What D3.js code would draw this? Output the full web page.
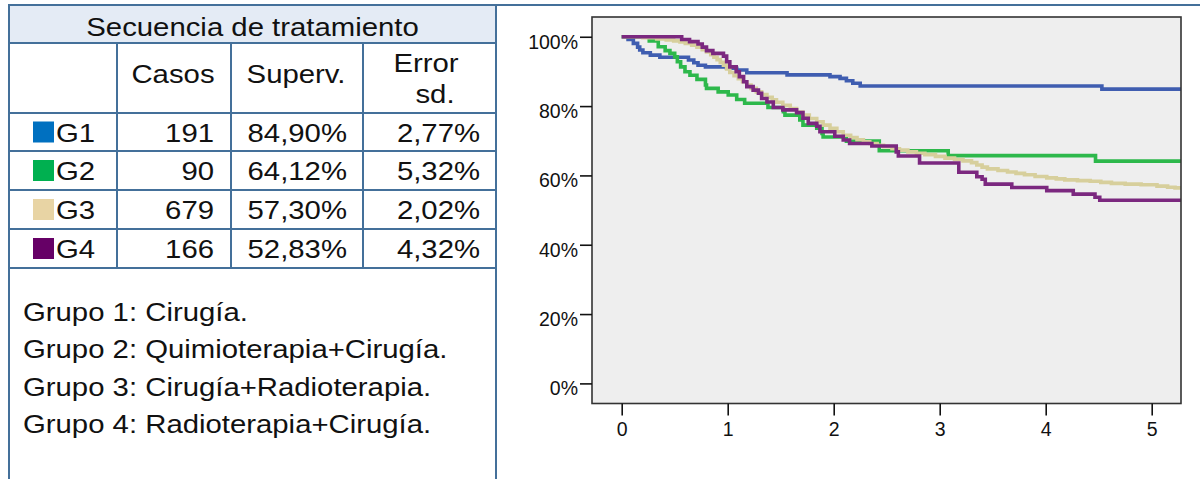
<!DOCTYPE html>
<html><head><meta charset="utf-8">
<script src="https://cdn.jsdelivr.net/npm/d3@7"></script>
<style>
html,body{margin:0;padding:0;background:#fff;}
svg{display:block;font-family:"Liberation Sans",Arial,sans-serif;}
</style></head><body>
<svg id="chart" width="1200" height="479"></svg>
<script>
// ---- table content ----
const tableTitle = "Secuencia de tratamiento";
const groups = ["G1", "G2", "G3", "G4"];
const swatchColors = ["#0070c0", "#00b050", "#e8d4a4", "#660066"];
const curveColors = ["#3f5db0", "#2db84b", "#d7cf9c", "#7b287f"];
const cases = [191, 90, 679, 166];
const survival = ["84,90%", "64,12%", "57,30%", "52,83%"];
const stdError = ["2,77%", "5,32%", "2,02%", "4,32%"];
const groupNotes = [
  "Grupo 1: Cirugía.",
  "Grupo 2: Quimioterapia+Cirugía.",
  "Grupo 3: Cirugía+Radioterapia.",
  "Grupo 4: Radioterapia+Cirugía."
];

// ---- axis ticks ----
const yTicks = [0, 0.2, 0.4, 0.6, 0.8, 1.0];
const xTicks = [0, 1, 2, 3, 4, 5];

// ---- Kaplan-Meier steps: [years, cumulative survival] ----
const survG1 = [[0,1],[0.06,0.992],[0.11,0.981],[0.15,0.970],[0.17,0.962],[0.20,0.954],[0.27,0.947],
  [0.36,0.941],[0.63,0.933],[0.68,0.925],[0.72,0.918],[0.79,0.913],[0.99,0.909],[1.085,0.904],
  [1.18,0.896],[1.56,0.890],[1.965,0.885],[2.06,0.880],[2.12,0.873],[2.18,0.866],[2.25,0.858],[4.53,0.849]];
const survG2 = [[0,1],[0.26,0.988],[0.345,0.971],[0.41,0.960],[0.455,0.952],[0.50,0.942],[0.525,0.928],
  [0.556,0.913],[0.597,0.899],[0.644,0.889],[0.71,0.877],[0.79,0.861],[0.80,0.851],[0.91,0.841],
  [1.005,0.832],[1.085,0.819],[1.16,0.808],[1.38,0.796],[1.525,0.784],[1.54,0.774],[1.68,0.760],
  [1.71,0.745],[1.84,0.736],[1.89,0.721],[1.90,0.711],[2.12,0.699],[2.43,0.671],[3.08,0.657],[4.47,0.6412]];
const survG3 = [[0,1],[0.20,0.997],[0.33,0.994],[0.42,0.991],[0.49,0.988],[0.55,0.985],[0.60,0.981],
  [0.66,0.976],[0.71,0.970],[0.76,0.963],[0.80,0.956],[0.84,0.948],[0.87,0.941],[0.90,0.934],[0.93,0.926],
  [0.96,0.918],[0.99,0.907],[1.02,0.897],[1.06,0.888],[1.10,0.879],[1.14,0.870],[1.18,0.861],[1.22,0.851],
  [1.27,0.841],[1.32,0.833],[1.37,0.825],[1.42,0.818],[1.46,0.811],[1.52,0.802],[1.59,0.793],[1.65,0.783],
  [1.71,0.774],[1.77,0.764],[1.84,0.755],[1.90,0.745],[1.965,0.736],[2.03,0.726],[2.09,0.716],[2.16,0.709],
  [2.22,0.703],[2.28,0.697],[2.34,0.692],[2.41,0.687],[2.47,0.683],[2.55,0.677],[2.62,0.673],[2.70,0.668],
  [2.78,0.664],[2.86,0.660],[2.96,0.655],[3.05,0.650],[3.14,0.646],[3.22,0.642],[3.30,0.637],[3.35,0.630],
  [3.40,0.624],[3.45,0.619],[3.55,0.614],[3.64,0.610],[3.72,0.606],[3.80,0.602],[3.90,0.597],[4.01,0.593],
  [4.10,0.590],[4.18,0.587],[4.30,0.585],[4.42,0.583],[4.52,0.580],[4.62,0.577],[4.75,0.575],[4.90,0.573],
  [5.05,0.569],[5.15,0.566],[5.22,0.564]];
const survG4 = [[0,1],[0.566,0.992],[0.64,0.986],[0.72,0.979],[0.76,0.970],[0.80,0.960],[0.86,0.952],
  [0.96,0.944],[0.99,0.928],[1.02,0.913],[1.08,0.899],[1.11,0.885],[1.15,0.870],[1.18,0.856],[1.24,0.846],
  [1.29,0.837],[1.32,0.822],[1.37,0.812],[1.43,0.796],[1.52,0.789],[1.65,0.781],[1.71,0.765],[1.76,0.750],
  [1.84,0.742],[1.87,0.726],[2.01,0.713],[2.09,0.702],[2.15,0.692],[2.36,0.685],[2.59,0.668],[2.61,0.656],
  [2.81,0.636],[3.18,0.609],[3.35,0.596],[3.40,0.589],[3.43,0.575],[3.68,0.565],[4.01,0.556],[4.26,0.546],
  [4.465,0.537],[4.51,0.5283]];
const seriesList = [survG1, survG2, survG3, survG4];

const svg = d3.select("#chart");
const lineColor = "#44709a";
const textColor = "#111";

// Text with a horizontal stretch applied around its anchor point
function stretchText(sel, str, x, y, anchor, size, sx) {
  return sel.append("text")
    .attr("transform", `translate(${x},${y}) scale(${sx},1)`)
    .attr("text-anchor", anchor)
    .attr("font-size", size)
    .attr("fill", textColor)
    .text(str);
}

// ================= left panel: table =================
const tbl = svg.append("g");
const colX = [9, 117, 231, 363, 496];
const rowY = [5, 43, 113, 151, 190, 229, 268];
const fs = 25.5, sx = 1.15;

tbl.append("rect").attr("x", colX[0]).attr("y", rowY[0])
  .attr("width", colX[4] - colX[0]).attr("height", rowY[1] - rowY[0]).attr("fill", "#e4ebf5");

// outer frame: top rule runs across both panels
tbl.append("line").attr("x1", colX[0]).attr("x2", 1200).attr("y1", rowY[0]).attr("y2", rowY[0])
  .attr("stroke", lineColor).attr("stroke-width", 2);
[colX[0], colX[4]].forEach(x => tbl.append("line").attr("x1", x).attr("x2", x)
  .attr("y1", rowY[0] - 1).attr("y2", 479).attr("stroke", lineColor).attr("stroke-width", 2));
rowY.slice(1).forEach(y => tbl.append("line").attr("x1", colX[0]).attr("x2", colX[4])
  .attr("y1", y).attr("y2", y).attr("stroke", lineColor).attr("stroke-width", 2));
colX.slice(1, 4).forEach(x => tbl.append("line").attr("x1", x).attr("x2", x)
  .attr("y1", rowY[1]).attr("y2", rowY[6]).attr("stroke", lineColor).attr("stroke-width", 2));

stretchText(tbl, tableTitle, (colX[0] + colX[4]) / 2, 36, "middle", fs, sx);
stretchText(tbl, "Casos", 173, 83, "middle", fs, sx);
stretchText(tbl, "Superv.", 296, 83, "middle", fs, sx);
stretchText(tbl, "Error", 426, 72, "middle", fs, sx);
stretchText(tbl, "sd.", 435, 103, "middle", fs, sx);

groups.forEach((g, i) => {
  const cy = (rowY[i + 2] + rowY[i + 3]) / 2;
  tbl.append("rect").attr("x", 33).attr("y", cy - 10.5).attr("width", 21).attr("height", 21)
    .attr("fill", swatchColors[i]);
  stretchText(tbl, g, 56, cy + 9.5, "start", fs, sx);
  stretchText(tbl, String(cases[i]), 214, cy + 9.5, "end", fs, sx);
  stretchText(tbl, survival[i], 347, cy + 9.5, "end", fs, sx);
  stretchText(tbl, stdError[i], 480, cy + 9.5, "end", fs, sx);
});

groupNotes.forEach((t, i) => stretchText(tbl, t, 23, 320.5 + i * 37.5, "start", fs, sx));

// ================= right panel: survival curves =================
const x = d3.scaleLinear().domain([-0.2802, 5.2764]).range([592, 1181]);
const y = d3.scaleLinear().domain([-0.058, 1.057]).range([403.5, 17]);
const [x0, x1] = x.range();
const [yb, yt] = y.range();

svg.append("defs").append("clipPath").attr("id", "plotClip")
  .append("rect").attr("x", x0).attr("y", yt).attr("width", x1 - x0).attr("height", yb - yt);

svg.append("rect").attr("x", x0).attr("y", yt).attr("width", x1 - x0).attr("height", yb - yt)
  .attr("fill", "#eeeeee");

const line = d3.line().x(d => x(d[0])).y(d => y(d[1])).curve(d3.curveStepAfter);
const curves = svg.append("g").attr("clip-path", "url(#plotClip)");
seriesList.forEach((s, i) => {
  const pts = s.concat([[x.domain()[1] + 0.05, s[s.length - 1][1]]]);
  curves.append("path").attr("d", line(pts)).attr("fill", "none")
    .attr("stroke", curveColors[i]).attr("stroke-width", 3.6)
    .attr("stroke-linejoin", "miter").attr("stroke-linecap", "butt");
});

svg.append("rect").attr("x", x0).attr("y", yt).attr("width", x1 - x0).attr("height", yb - yt)
  .attr("fill", "none").attr("stroke", "#333").attr("stroke-width", 1.6);

const yAxis = svg.append("g").attr("transform", `translate(${x0},0)`)
  .call(d3.axisLeft(y).tickValues(yTicks).tickFormat(d3.format(".0%")).tickSize(12).tickPadding(2));
const xAxis = svg.append("g").attr("transform", `translate(0,${yb})`)
  .call(d3.axisBottom(x).tickValues(xTicks).tickFormat(d3.format("d")).tickSize(12).tickPadding(7));

[yAxis, xAxis].forEach(a => {
  a.select(".domain").remove();
  a.selectAll(".tick line").attr("stroke", "#111").attr("stroke-width", 1.6);
  a.selectAll(".tick text").attr("fill", textColor)
    .attr("font-size", 19.5).attr("font-family", "'Liberation Sans', Arial, sans-serif");
});
yAxis.selectAll(".tick text").attr("dy", "0.58em");
</script>
</body></html>
